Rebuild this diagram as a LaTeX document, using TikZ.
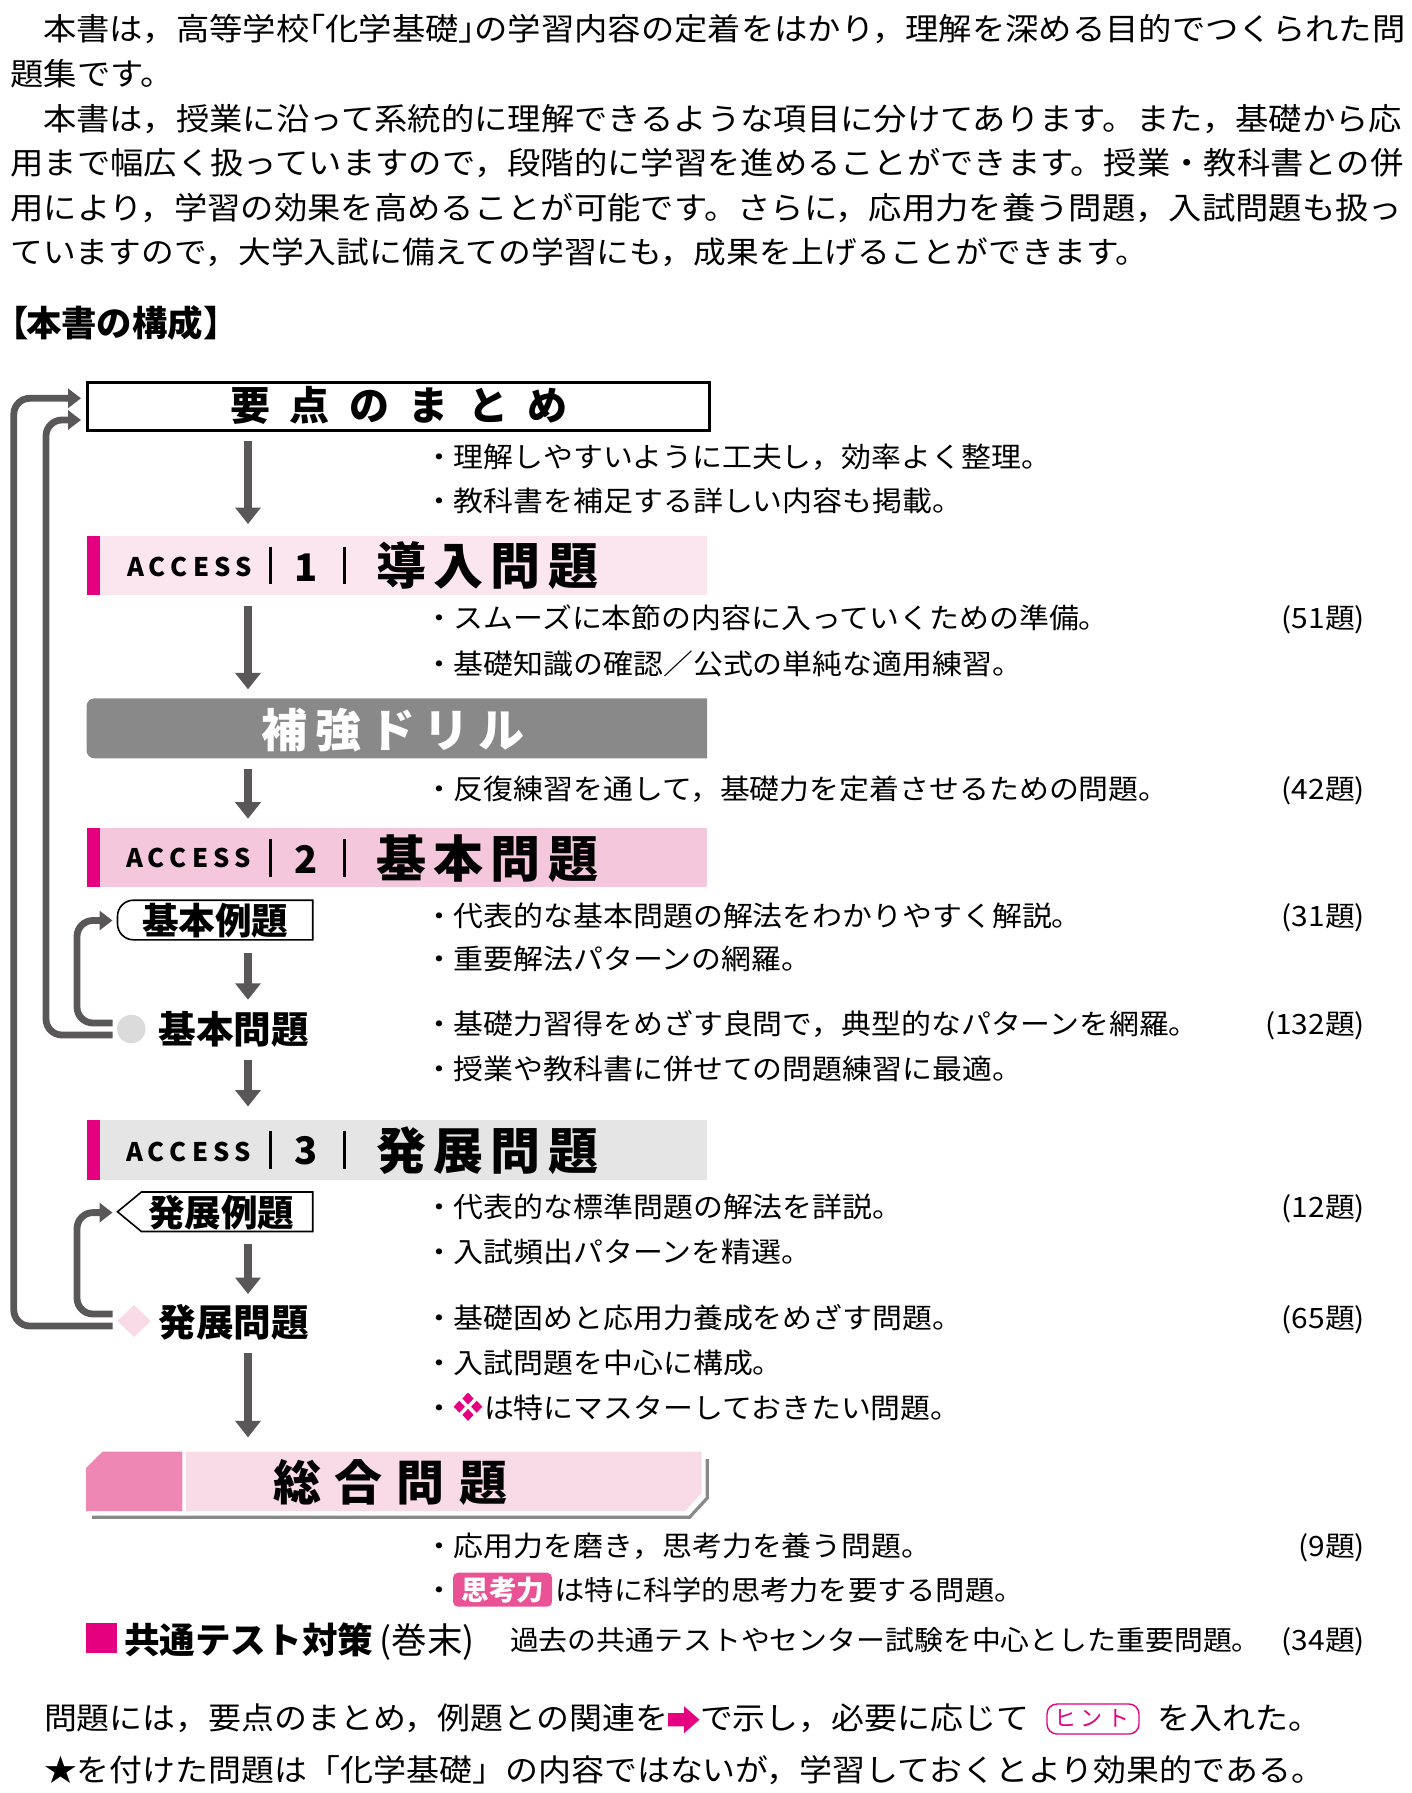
\documentclass[tikz,border=0pt]{standalone}
\usepackage{fontspec}
\usetikzlibrary{arrows.meta,shapes.geometric}
\setmainfont{Noto Sans CJK JP}
\newfontfamily\fB[FakeStretch=1.075]{Noto Sans CJK JP}
\newfontfamily\fL[FakeStretch=1.068]{Noto Sans CJK JP}
\newfontfamily\fX[FakeStretch=1.05]{Noto Sans CJK JP}
\newfontfamily\fN{Noto Sans CJK JP}
\newfontfamily\fP[RawFeature=+palt]{Noto Sans CJK JP}
\newcommand{\szz}[1]{\fontsize{#1}{#1}\selectfont}
\definecolor{ink}{HTML}{595757}
\definecolor{mag}{HTML}{E4007F}
\definecolor{band1}{HTML}{FBE5EF}
\definecolor{band2}{HTML}{F5C7DC}
\definecolor{band3}{HTML}{E5E5E5}
\definecolor{drillc}{HTML}{898989}
\definecolor{sogod}{HTML}{EE87B4}
\definecolor{sogol}{HTML}{F9DAE7}
\definecolor{badge}{HTML}{E95295}
\tikzset{
 txt/.style={anchor=base west,inner sep=0pt,outer sep=0pt},
 bodyt/.style={txt,font={\fB\szz{31}}},
 bodyn/.style={txt,font={\fB\szz{30.45}}},
 bodyb/.style={txt,font={\fB\szz{30.65}}},
 bul/.style={txt,font={\fL\szz{28}}},
 numr/.style={anchor=base east,inner sep=0pt,outer sep=0pt,font={\fL\szz{28}}},
 head/.style={txt,font={\fN\bfseries\szz{50}}},
 accst/.style={txt,font={\fN\bfseries\szz{25.6}}},
 digit/.style={anchor=base,inner sep=0pt,outer sep=0pt,font={\fN\bfseries\szz{38}}},
 sub/.style={txt,font={\fN\bfseries\szz{36.6}}},
 rectn/.style={rectangle,anchor=north west,inner sep=0pt,outer sep=0pt},
 flowarrow/.style={draw=ink,line width=8.3pt,-{Triangle[width=25pt,length=16.5pt]}},
 backarrow/.style={draw=ink,line width=6.8pt,rounded corners=16pt,-{Triangle[width=19pt,length=13pt]}},
 barl/.style={draw=black,line width=3pt},
}
\newcommand{\bl}[3]{\node[bul] (#1) at (424,#2) {・#3};}
\newcommand{\cnt}[3]{\node[numr] (#1) at (1365,#2) {#3};}
\newcommand{\bandn}[5]{% name, y1, height, colour, stripe name
 \node[rectn,fill=#4,minimum width=620.5pt,minimum height=#3pt] (#1) at (86.5,#2) {};
 \node[rectn,fill=mag,minimum width=13pt,minimum height=#3pt] (#5) at (86.5,#2) {};}
\newcommand{\accs}{A\kern5pt C\kern5pt C\kern5pt E\kern5pt S\kern5pt S}
\begin{document}
\begin{tikzpicture}[x=1pt,y=-1pt]
\useasboundingbox (0,0) rectangle (1411,1793);
\coordinate (ax) at (248,0);
% intro
\node[bodyt] (p1) at (43,41) {本書は，高等学校\kern-17.5pt 「化学基礎」\kern-17.5pt の学習内容の定着をはかり，理解を深める目的でつくられた問};
\node[bodyt] (p2) at (10.5,85.5) {題集です。};
\node[bodyt] (p3) at (43,130) {本書は，授業に沿って系統的に理解できるような項目に分けてあります。また，基礎から応};
\node[bodyt] (p4) at (10.5,174.5) {用まで幅広く扱っていますので，段階的に学習を進めることができます。授業・教科書との併};
\node[bodyt] (p5) at (10.5,219) {用により，学習の効果を高めることが可能です。さらに，応用力を養う問題，入試問題も扱っ};
\node[bodyn] (p6) at (10.5,263.3) {ていますので，大学入試に備えての学習にも，成果を上げることができます。};
\node[txt,font={\fP\bfseries\szz{35.4}}] (kb1) at (10,336) {【};
\node[txt,font={\fN\bfseries\szz{35.4}}] (kosei) at (26,336) {本書の構成};
\node[txt,font={\fP\bfseries\szz{35.4}}] (kb2) at (204,336) {】};
% top box
\node[rectn,draw=black,line width=3pt,minimum width=622pt,minimum height=48pt] (top) at (87,382) {};
\node[txt,font={\fN\bfseries\szz{40}}] (toptx) at (230,420.5) {要\kern19.5pt 点\kern19.5pt の\kern19.5pt ま\kern19.5pt と\kern19.5pt め};
% band 1
\bandn{b1}{536}{59.3}{band1}{s1}
\node[accst] (a1) at (127,576) {\accs};
\draw[barl] (270.4,546.7) -- (270.4,584);
\draw[barl] (344,546.7) -- (344,584);
\node[digit] (d1) at (306,581) {1};
\node[head] (h1) at (376,584.5) {導\kern7.4pt 入\kern7.4pt 問\kern7.4pt 題};
% drill
\node[rectn,minimum width=620.5pt,minimum height=60pt] (drill) at (86.5,698.3) {};
\fill[drillc,rounded corners=8pt] (drill.north east) [sharp corners] -- (drill.north east) [rounded corners=8pt] -- (drill.north west) -- (drill.south west) [sharp corners] -- (drill.south east) -- cycle;
\node[txt,font={\fN\bfseries\szz{46}},text=white] (drt) at (261,747.5) {補\kern8.3pt 強\kern8.3pt ド\kern8.3pt リ\kern8.3pt ル};
% band 2
\bandn{b2}{828}{59}{band2}{s2}
\node[accst] (a2) at (126,867) {\accs};
\draw[barl] (270.4,839) -- (270.4,877);
\draw[barl] (344,839) -- (344,877);
\node[digit] (d2) at (306,873) {2};
\node[head] (h2) at (376,877) {基\kern7.4pt 本\kern7.4pt 問\kern7.4pt 題};
% kihon reidai
\node[rectn,minimum width=195.2pt,minimum height=39.6pt] (rei1) at (117.5,900.2) {};
\draw[line width=1.6pt,rounded corners=16pt] (rei1.north east) [sharp corners] -- (rei1.south east) -- (rei1.south) [rounded corners=16pt] -- (rei1.south west) -- (rei1.north west) -- (rei1.north) [sharp corners] -- cycle;
\node[sub] (rei1t) at (142,934.5) {基本例題};
\node[circle,fill=black!14,minimum size=28.5pt,inner sep=0pt,outer sep=0pt] (circ) at (131.3,1029) {};
\node[txt,font={\fN\bfseries\szz{37.6}}] (kmon) at (158.5,1043) {基本問題};
% band 3
\bandn{b3}{1120.3}{59.7}{band3}{s3}
\node[accst] (a3) at (126,1161) {\accs};
\draw[barl] (270.4,1131) -- (270.4,1169);
\draw[barl] (344,1131) -- (344,1169);
\node[digit] (d3) at (306,1164) {3};
\node[head] (h3) at (376,1169) {発\kern7.4pt 展\kern7.4pt 問\kern7.4pt 題};
% hatten reidai
\node[rectn,minimum width=195.2pt,minimum height=39.5pt] (rei2) at (117.5,1192) {};
\draw[line width=1.6pt] (rei2.north east) -- (rei2.south east) -- (141.4,1231.5) -- (rei2.west) -- (141.4,1192) -- cycle;
\node[sub] (rei2t) at (148,1226) {発展例題};
\node[diamond,fill=sogol,minimum width=33.4pt,minimum height=32pt,inner sep=0pt,outer sep=0pt] (dia) at (134,1321) {};
\node[txt,font={\fN\bfseries\szz{37.6}}] (hmon) at (158.5,1336) {発展問題};
% sogo
\node[rectn,minimum width=615.5pt,minimum height=59.3pt] (sogo) at (86,1451.7) {};
\fill[sogod] (86,1468) -- (102.4,1451.7) -- (182.3,1451.7) -- (182.3,1511) -- (86,1511) -- cycle;
\fill[sogol] (185.9,1451.7) -- (701.5,1451.7) -- (701.5,1493) -- (685,1511) -- (185.9,1511) -- cycle;
\draw[drillc,line width=3.2pt] (92,1517.3) -- (689.5,1517.3) -- (707.3,1498) -- (707.3,1459);
\node[txt,font={\fN\bfseries\szz{48}}] (sogot) at (273,1500) {総\kern14pt 合\kern14pt 問\kern14pt 題};
% flow arrows
\draw[flowarrow,shorten <=11pt,shorten >=12pt] (top.south -| ax) -- (b1.north -| ax);
\draw[flowarrow,shorten <=10.7pt,shorten >=9pt] (b1.south -| ax) -- (drill.north -| ax);
\draw[flowarrow,shorten <=11pt,shorten >=9.3pt] (drill.south -| ax) -- (b2.north -| ax);
\draw[flowarrow,shorten <=12.8pt,shorten >=15pt] (rei1.south -| ax) -- (circ.north -| ax);
\draw[flowarrow,shorten <=16.8pt,shorten >=13.8pt] (circ.south -| ax) -- (b3.north -| ax);
\draw[flowarrow,shorten <=12pt,shorten >=11pt] (rei2.south -| ax) -- (dia.north -| ax);
\draw[flowarrow,shorten <=15.6pt,shorten >=14.4pt] (dia.south -| ax) -- (sogo.north -| ax);
% return arrows
\coordinate (o1) at (112.5,1326);
\coordinate (t1) at (81,398.3);
\coordinate (o2) at (112.5,1035);
\coordinate (t2) at (81,420);
\coordinate (o3) at (112.5,1023);
\coordinate (t3) at (112.5,920.5);
\coordinate (o4) at (112.5,1314);
\coordinate (t4) at (112.5,1212.6);
\draw[backarrow] (o1) -- (13.8,1326) -- (13.8,398.3) -- (t1);
\draw[backarrow] (o2) -- (46,1035) -- (46,420) -- (t2);
\draw[backarrow] (o3) -- (77,1023) -- (77,920.5) -- (t3);
\draw[backarrow] (o4) -- (77,1314) -- (77,1212.6) -- (t4);
% bullet lines
\bl{l1}{467}{理解しやすいように工夫し，効率よく整理。}
\bl{l2}{511.5}{教科書を補足する詳しい内容も掲載。}
\bl{l3}{628.5}{スムーズに本節の内容に入っていくための準備。}
\cnt{n3}{628.5}{(51題)}
\bl{l4}{674.7}{基礎知識の確認／公式の単純な適用練習。}
\bl{l5}{799.7}{反復練習を通して，基礎力を定着させるための問題。}
\cnt{n5}{799.7}{(42題)}
\bl{l6}{926.5}{代表的な基本問題の解法をわかりやすく解説。}
\cnt{n6}{926.5}{(31題)}
\bl{l7}{969.5}{重要解法パターンの網羅。}
\bl{l8}{1034.5}{基礎力習得をめざす良問で，典型的なパターンを網羅。}
\cnt{n8}{1034.5}{(132題)}
\bl{l9}{1079.7}{授業や教科書に併せての問題練習に最適。}
\bl{l10}{1217.5}{代表的な標準問題の解法を詳説。}
\cnt{n10}{1217.5}{(12題)}
\bl{l11}{1262}{入試頻出パターンを精選。}
\bl{l12}{1328}{基礎固めと応用力養成をめざす問題。}
\cnt{n12}{1328}{(65題)}
\bl{l13}{1373}{入試問題を中心に構成。}
\node[bul] (l14a) at (424,1418) {・};
\foreach \dx/\dy in {0/-8.2,-8.7/0,8.7/0,0/8.2}{
 \fill[mag] (468+\dx,1406.7+\dy-6) -- (468+\dx+5.6,1406.7+\dy) -- (468+\dx,1406.7+\dy+6) -- (468+\dx-5.6,1406.7+\dy) -- cycle;}
\node[bul] (l14) at (484,1418) {は特にマスターしておきたい問題。};
\bl{l15}{1556.3}{応用力を磨き，思考力を養う問題。}
\cnt{n15}{1556.3}{(9題)}
\node[bul] (l16a) at (424,1600.5) {・};
\node[rectn,fill=badge,rounded corners=5pt,minimum width=99pt,minimum height=34pt] (bdg) at (453,1572.7) {};
\node[txt,text=white,font={\fN\bfseries\szz{27.5}}] (bdgt) at (461.5,1600) {思考力};
\node[txt,font={\fL\szz{27.4}}] (l16) at (555.5,1600.5) {は特に科学的思考力を要する問題。};
% kyotsu
\node[rectn,fill=mag,minimum width=31pt,minimum height=30pt] (sq) at (86,1622.7) {};
\node[txt,font={\fN\bfseries\szz{35.6}}] (kt) at (124,1653.5) {共通テスト対策};
\node[txt,font={\fN\szz{35.5}}] (kp) at (379.5,1653.5) {(巻末)};
\node[txt,font={\fX\szz{27.5}}] (kd) at (510,1650) {過去の共通テストやセンター試験を中心とした重要問題。};
\cnt{nk}{1650}{(34題)}
% bottom
\node[bodyb] (e1) at (44,1729.5) {問題には，要点のまとめ，例題との関連を};
\fill[mag] (668,1713) -- (684,1713) -- (684,1706.2) -- (699.5,1719.7) -- (684,1733.2) -- (684,1726.4) -- (668,1726.4) -- cycle;
\node[bodyb] (e2) at (700,1729.5) {で示し，必要に応じて};
\node[rectn,draw=mag,line width=1.4pt,rounded corners=10pt,minimum width=92pt,minimum height=30pt] (hint) at (1047,1704) {};
\node[txt,text=mag,font={\fN\szz{22}}] (hintt) at (1054,1726.5) {ヒ\kern4.5pt ン\kern4.5pt ト};
\node[bodyb] (e3) at (1157,1729.5) {を入れた。};
\node[bodyb] (e4) at (44,1781) {★を付けた問題は「化学基礎」の内容ではないが，学習しておくとより効果的である。};
\end{tikzpicture}
\end{document}
